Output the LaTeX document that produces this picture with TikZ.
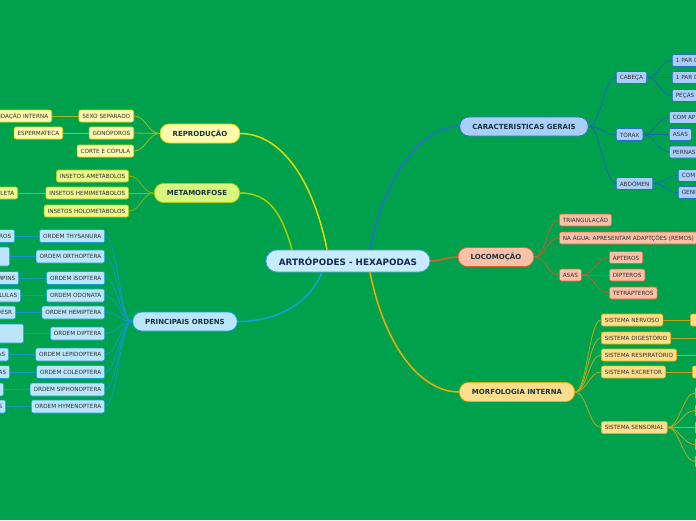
\documentclass[tikz,border=0pt]{standalone}
\usepackage{fontspec}
\setmainfont{DejaVu Sans}
\usepackage{tikz}
\usetikzlibrary{positioning,calc}
\definecolor{bggreen}{RGB}{0,161,76}
\definecolor{inkdark}{RGB}{45,45,45}
\definecolor{topicink}{RGB}{22,52,62}
\definecolor{hexafill}{RGB}{200,236,252}
\definecolor{hexadraw}{RGB}{70,150,220}
\definecolor{hexaink}{RGB}{20,40,85}
\definecolor{caracfill}{RGB}{170,206,250}
\definecolor{caracdraw}{RGB}{40,110,210}
\definecolor{caracline}{RGB}{30,100,190}
\definecolor{locofill}{RGB}{251,192,168}
\definecolor{locodraw}{RGB}{226,96,46}
\definecolor{locoline}{RGB}{190,100,50}
\definecolor{morfofill}{RGB}{253,222,140}
\definecolor{morfodraw}{RGB}{240,172,0}
\definecolor{morfoline}{RGB}{195,165,30}
\definecolor{reprofill}{RGB}{255,250,175}
\definecolor{reprodraw}{RGB}{232,216,0}
\definecolor{reproline}{RGB}{170,182,30}
\definecolor{metafill}{RGB}{218,245,125}
\definecolor{metasub}{RGB}{236,248,140}
\definecolor{metadraw}{RGB}{172,206,0}
\definecolor{metaline}{RGB}{140,180,20}
\definecolor{ordfill}{RGB}{186,229,250}
\definecolor{orddraw}{RGB}{22,160,216}
\definecolor{ordline}{RGB}{20,150,200}

\begin{document}
\begin{tikzpicture}[x=1pt, y=-1pt,
  box/.style={draw, rounded corners=2pt, line width=0.6pt, minimum height=12pt,
    inner xsep=3.5pt, inner ysep=0pt, text=inkdark, font=\fontsize{5.7}{6}\selectfont},
  topic/.style={draw, rounded corners=9pt, line width=0.8pt, minimum height=19pt,
    inner xsep=12.5pt, inner ysep=0pt, text=topicink, font=\fontsize{7}{8}\selectfont\bfseries},
  cutleft/.style={anchor=east, text width=60pt, align=right},
  cutright/.style={anchor=west, text width=60pt, align=left},
  caracbox/.style={fill=caracfill, draw=caracdraw},
  locobox/.style={fill=locofill, draw=locodraw},
  morfobox/.style={fill=morfofill, draw=morfodraw},
  reprobox/.style={fill=reprofill, draw=reprodraw},
  metabox/.style={fill=metafill, draw=metadraw},
  ordbox/.style={fill=ordfill, draw=orddraw, minimum height=13pt},
  branch/.style={line width=1.5pt},
  link/.style={line width=0.8pt},
  rlink/.style={link, to path={.. controls +(12,0) and +(-12,0) .. (\tikztotarget)}},
  llink/.style={link, to path={.. controls +(-12,0) and +(12,0) .. (\tikztotarget)}}]

  \useasboundingbox (0,0) rectangle (696,520);
  \fill[bggreen] (0,0) rectangle (696,520);
  \clip (0,0) rectangle (696,520);

  % centre and main topics
  \node[topic, fill=hexafill, draw=hexadraw, text=hexaink,
    minimum height=22pt, rounded corners=11pt, inner xsep=13pt,
    font=\fontsize{8.8}{10}\selectfont\bfseries] (hexa) at (348,261) {ARTRÓPODES - HEXAPODAS};
  \node[topic, caracbox] (carac) at (524,126.5) {CARACTERISTICAS GERAIS};
  \node[topic, locobox] (loco) at (496,257) {LOCOMOÇÃO};
  \node[topic, morfobox] (morfo) at (517,392) {MORFOLOGIA INTERNA};
  \node[topic, reprobox] (repro) at (200,133.5) {REPRODUÇÃO};
  \node[topic, metabox] (meta) at (197,193) {METAMORFOSE};
  \node[topic, ordbox, minimum height=19pt] (ordens) at (185,321.5) {PRINCIPAIS ORDENS};

  \draw[branch, caracdraw] ($(hexa.north)+(22,0)$) .. controls +(15,-75) and +(-38,0) .. (carac.west);
  \draw[branch, locodraw] (hexa.east) to[out=0,in=180] (loco.west);
  \draw[branch, morfodraw] ($(hexa.south)+(22,0)$) .. controls +(15,75) and +(-38,0) .. (morfo.west);
  \draw[branch, reprodraw] ($(hexa.north)+(-21,0)$) .. controls +(-15,-75) and +(38,0) .. (repro.east);
  \draw[branch, metadraw] ($(hexa.north)+(-56,0)$) .. controls +(-10,-35) and +(30,0) .. (meta.east);
  \draw[branch, orddraw] ($(hexa.south)+(-26,0)$) .. controls +(-15,35) and +(35,0) .. (ordens.east);

  % caracteristicas gerais
  \node[box, caracbox, anchor=west] (cabeca) at (616,77.5) {CABEÇA};
  \node[box, caracbox, anchor=west] (torax) at (616,134.5) {TÓRAX};
  \node[box, caracbox, anchor=west] (abdomen) at (616,183.5) {ABDÔMEN};
  \node[box, caracbox, cutright] (antenas) at (672,60.5) {1 PAR D};
  \node[box, caracbox, cutright] (olhos) at (672,77.5) {1 PAR D};
  \node[box, caracbox, cutright] (pecas) at (672,95.5) {PEÇAS};
  \node[box, caracbox, cutright] (comap) at (669,117.5) {COM AP};
  \node[box, caracbox, anchor=west] (asastorax) at (669,134.5) {ASAS};
  \node[box, caracbox, cutright] (pernas) at (669,152) {PERNAS};
  \node[box, caracbox, cutright] (comab) at (678,175.5) {COM};
  \node[box, caracbox, cutright] (genit) at (678,192.5) {GENI};

  \draw[rlink, caracline] (carac.east) to (cabeca.west);
  \draw[rlink, caracline] (carac.east) to (torax.west);
  \draw[rlink, caracline] (carac.east) to (abdomen.west);
  \draw[rlink, caracline] (cabeca.east) to (antenas.west);
  \draw[rlink, caracline] (cabeca.east) to (olhos.west);
  \draw[rlink, caracline] (cabeca.east) to (pecas.west);
  \draw[rlink, caracline] (torax.east) to (comap.west);
  \draw[rlink, caracline] (torax.east) to (asastorax.west);
  \draw[rlink, caracline] (torax.east) to (pernas.west);
  \draw[rlink, caracline] (abdomen.east) to (comab.west);
  \draw[rlink, caracline] (abdomen.east) to (genit.west);

  % locomocao
  \node[box, locobox, anchor=west] (triang) at (559,220) {TRIANGULAÇÃO};
  \node[box, locobox, anchor=west] (agua) at (559,238) {NA ÁGUA: APRESENTAM ADAPTÇÕES (REMOS)};
  \node[box, locobox, anchor=west] (asas) at (559,275) {ASAS};
  \node[box, locobox, anchor=west] (apteros) at (609,257.5) {ÁPTEROS};
  \node[box, locobox, anchor=west] (dipteros) at (609,275) {DÍPTEROS};
  \node[box, locobox, anchor=west] (tetra) at (609,293) {TETRÁPTEROS};

  \draw[rlink, locoline] (loco.east) to (triang.west);
  \draw[rlink, locoline] (loco.east) to (agua.west);
  \draw[rlink, locoline] (loco.east) to (asas.west);
  \draw[rlink, locoline] (asas.east) to (apteros.west);
  \draw[rlink, locoline] (asas.east) to (dipteros.west);
  \draw[rlink, locoline] (asas.east) to (tetra.west);

  % morfologia interna
  \node[box, morfobox, anchor=west] (nervoso) at (601,320) {SISTEMA NERVOSO};
  \node[box, morfobox, anchor=west] (digest) at (601,338) {SISTEMA DIGESTÓRIO};
  \node[box, morfobox, anchor=west] (resp) at (601,355) {SISTEMA RESPIRATÓRIO};
  \node[box, morfobox, anchor=west] (excret) at (601,372) {SISTEMA EXCRETOR};
  \node[box, morfobox, anchor=west] (sensor) at (601,427.5) {SISTEMA SENSORIAL};
  \node[box, morfobox, cutright] (nervosoA) at (690,320) {};
  \coordinate (digestA) at (700,338);
  \coordinate (respA) at (700,355);
  \node[box, morfobox, cutright] (excretA) at (692,372) {};
  \node[box, morfobox, cutright] (sensA) at (695,393) {};
  \node[box, morfobox, cutright] (sensB) at (695,410.5) {};
  \node[box, morfobox, cutright] (sensC) at (695,427.5) {};
  \node[box, morfobox, cutright] (sensD) at (695,444.5) {};
  \node[box, morfobox, cutright] (sensE) at (695,461.5) {};

  \draw[rlink, morfoline] (morfo.east) to (nervoso.west);
  \draw[rlink, morfoline] (morfo.east) to (digest.west);
  \draw[rlink, morfoline] (morfo.east) to (resp.west);
  \draw[rlink, morfoline] (morfo.east) to (excret.west);
  \draw[rlink, morfoline] (morfo.east) to (sensor.west);
  \draw[link, morfoline] (nervoso.east) -- (nervosoA.west);
  \draw[link, morfoline] (digest.east) -- (digestA);
  \draw[link, morfoline] (resp.east) -- (respA);
  \draw[link, morfoline] (excret.east) -- (excretA.west);
  \draw[rlink, morfoline] (sensor.east) to (sensA.west);
  \draw[rlink, morfoline] (sensor.east) to (sensB.west);
  \draw[rlink, morfoline] (sensor.east) to (sensC.west);
  \draw[rlink, morfoline] (sensor.east) to (sensD.west);
  \draw[rlink, morfoline] (sensor.east) to (sensE.west);

  % reproducao
  \node[box, reprobox, anchor=east] (sexo) at (134,116) {SEXO SEPARADO};
  \node[box, reprobox, anchor=east] (gono) at (134,133) {GONÓPOROS};
  \node[box, reprobox, anchor=east] (corte) at (134,151) {CORTE E CÓPULA};
  \node[box, reprobox, cutleft] (fecund) at (52,116) {NDAÇÃO INTERNA};
  \node[box, reprobox, anchor=east] (esperm) at (63,133) {ESPERMATECA};

  \draw[llink, reproline] (repro.west) to (sexo.east);
  \draw[llink, reproline] (repro.west) to (gono.east);
  \draw[llink, reproline] (repro.west) to (corte.east);
  \draw[link, reproline] (sexo.west) -- (fecund.east);
  \draw[link, reproline] (gono.west) -- (esperm.east);

  % metamorfose
  \node[box, metabox, fill=metasub, anchor=east] (ameta) at (129,176) {INSETOS AMETÁBOLOS};
  \node[box, metabox, fill=metasub, anchor=east] (hemi) at (129,193) {INSETOS HEMIMETÁBOLOS};
  \node[box, metabox, fill=metasub, anchor=east] (holo) at (129,211) {INSETOS HOLOMETÁBOLOS};
  \node[box, metabox, fill=metasub, cutleft] (incompleta) at (18,193) {PLETA};

  \draw[llink, metaline] (meta.west) to (ameta.east);
  \draw[llink, metaline] (meta.west) to (hemi.east);
  \draw[llink, metaline] (meta.west) to (holo.east);
  \draw[link, metaline] (hemi.west) -- (incompleta.east);

  % principais ordens
  \node[box, ordbox, anchor=east] (thys) at (105,236) {ORDEM THYSANURA};
  \node[box, ordbox, anchor=east] (orth) at (105,256.5) {ORDEM ORTHOPTERA};
  \node[box, ordbox, anchor=east] (isop) at (105,278) {ORDEM ISOPTERA};
  \node[box, ordbox, anchor=east] (odon) at (105,295.5) {ORDEM ODONATA};
  \node[box, ordbox, anchor=east] (hemip) at (105,312.5) {ORDEM HEMIPTERA};
  \node[box, ordbox, anchor=east] (dipt) at (105,333.5) {ORDEM DIPTERA};
  \node[box, ordbox, anchor=east] (lepid) at (105,354.5) {ORDEM LEPIDOPTERA};
  \node[box, ordbox, anchor=east] (coleo) at (105,372) {ORDEM COLEOPTERA};
  \node[box, ordbox, anchor=east] (sipho) at (105,389.5) {ORDEM SIPHONOPTERA};
  \node[box, ordbox, anchor=east] (hymen) at (105,406.5) {ORDEM HYMENOPTERA};
  \node[box, ordbox, cutleft] (thysA) at (15,236) {ROS};
  \node[box, ordbox, cutleft, minimum height=19pt] (orthA) at (10,256.5) {};
  \node[box, ordbox, cutleft] (isopA) at (19,278) {MPINS};
  \node[box, ordbox, cutleft] (odonA) at (21,295.5) {LULAS};
  \node[box, ordbox, cutleft] (hemipA) at (16,312.5) {DESR};
  \node[box, ordbox, cutleft, minimum height=19pt] (diptA) at (24,333.5) {};
  \node[box, ordbox, cutleft] (lepidA) at (9,354.5) {AS};
  \node[box, ordbox, cutleft] (coleoA) at (10,372) {AS};
  \node[box, ordbox, cutleft] (siphoA) at (4,389.5) {};
  \node[box, ordbox, cutleft] (hymenA) at (6,406.5) {S};

  \draw[llink, ordline] (ordens.west) to (thys.east);
  \draw[llink, ordline] (ordens.west) to (orth.east);
  \draw[llink, ordline] (ordens.west) to (isop.east);
  \draw[llink, ordline] (ordens.west) to (odon.east);
  \draw[llink, ordline] (ordens.west) to (hemip.east);
  \draw[llink, ordline] (ordens.west) to (dipt.east);
  \draw[llink, ordline] (ordens.west) to (lepid.east);
  \draw[llink, ordline] (ordens.west) to (coleo.east);
  \draw[llink, ordline] (ordens.west) to (sipho.east);
  \draw[llink, ordline] (ordens.west) to (hymen.east);
  \draw[link, ordline] (thys.west) -- (thysA.east);
  \draw[link, ordline] (orth.west) -- (orthA.east);
  \draw[link, ordline] (isop.west) -- (isopA.east);
  \draw[link, ordline] (odon.west) -- (odonA.east);
  \draw[link, ordline] (hemip.west) -- (hemipA.east);
  \draw[link, ordline] (dipt.west) -- (diptA.east);
  \draw[link, ordline] (lepid.west) -- (lepidA.east);
  \draw[link, ordline] (coleo.west) -- (coleoA.east);
  \draw[link, ordline] (sipho.west) -- (siphoA.east);
  \draw[link, ordline] (hymen.west) -- (hymenA.east);
\end{tikzpicture}
\end{document}
